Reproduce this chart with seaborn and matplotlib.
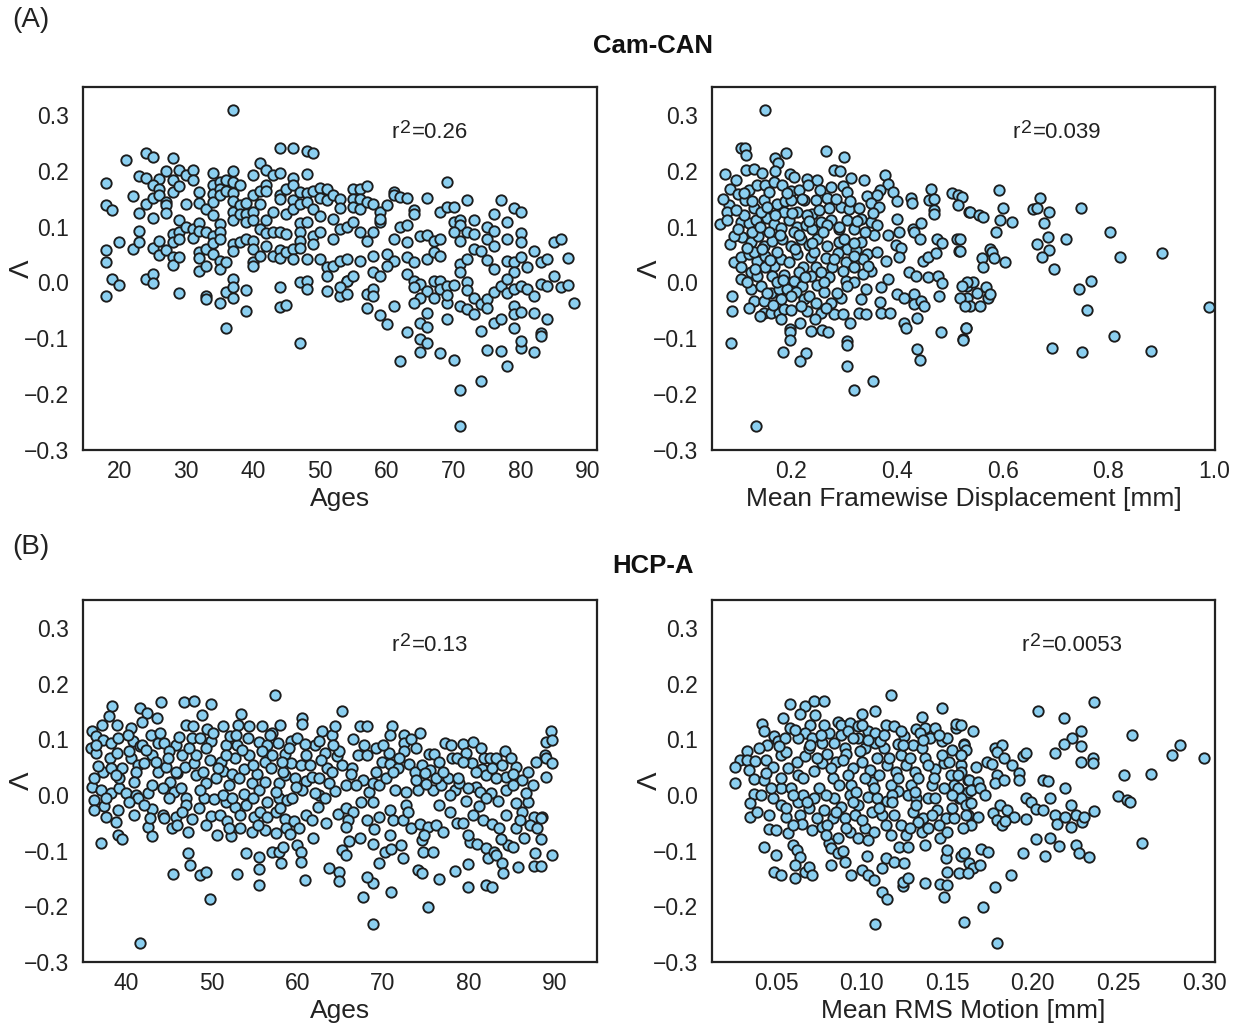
import matplotlib
matplotlib.use("Agg")
import matplotlib.pyplot as plt
import seaborn as sns
import pandas as pd

# ---------------- data ----------------
# Cam-CAN : (age, Lambda)
cam_age_pts = [
(37,0.308),(21,0.219),(24,0.231),(25,0.225),(28,0.223),(18,0.178),(23,0.190),(24,0.187),(26,0.186),(27,0.199),
(29,0.202),(30,0.193),(31,0.202),(31,0.184),(34,0.196),(37,0.199),(40,0.192),(41,0.214),(42,0.201),(43,0.192),
(44,0.196),(44,0.241),(46,0.241),(48,0.235),(49,0.231),(48,0.195),(46,0.187),(22,0.154),(18,0.138),(19,0.129),
(24,0.141),(23,0.125),(25,0.174),(26,0.168),(25,0.151),(26,0.156),(27,0.144),(27,0.138),(27,0.125),(28,0.162),
(28,0.183),(29,0.172),(25,0.116),(23,0.093),(20,0.073),(18,0.059),(18,0.036),(22,0.060),(23,0.072),(25,0.061),
(26,0.074),(26,0.050),(27,0.058),(28,0.046),(28,0.032),(28,0.087),(28,0.072),(29,0.090),(29,0.077),(29,0.046),
(29,0.111),(30,0.141),(30,0.100),(31,0.096),(31,0.079),(32,0.162),(32,0.142),(32,0.106),(32,0.093),(32,0.055),
(32,0.043),(32,0.021),(33,0.132),(33,0.091),(33,0.060),(33,0.030),(34,0.174),(34,0.159),(34,0.144),(34,0.120),
(34,0.084),(34,0.070),(34,0.051),(35,0.180),(35,0.168),(35,0.156),(35,0.105),(35,0.090),(35,0.077),(35,0.039),
(35,0.025),(36,0.183),(36,0.163),(36,0.036),(37,0.180),(37,0.160),(37,0.145),(37,0.127),(37,0.111),(37,0.069),
(37,0.057),(38,0.175),(38,0.139),(38,0.123),(38,0.072),(39,0.143),(39,0.122),(39,0.109),(39,0.077),(40,0.156),
(40,0.127),(40,0.111),(40,0.075),(40,0.060),(40,0.036),(40,0.030),(41,0.141),(41,0.163),(41,0.096),(41,0.048),
(42,0.175),(42,0.163),(42,0.111),(42,0.088),(42,0.066),(43,0.127),(43,0.090),(43,0.047),(44,0.157),(44,0.150),
(44,0.091),(44,0.059),(44,0.043),(45,0.168),(45,0.123),(45,0.087),(45,0.055),(46,0.174),(46,0.148),(46,0.132),
(46,0.060),(46,0.042),(47,0.162),(47,0.141),(47,0.107),(47,0.090),(47,0.075),(47,0.061),(48,0.160),(48,0.144),
(48,0.108),(48,0.042),(49,0.163),(49,0.132),(49,0.083),(49,0.069),(50,0.169),(50,0.151),(50,0.119),(50,0.091),
(50,0.042),(51,0.168),(51,0.147),(51,0.027),(51,0.012),(51,-0.016),(52,0.156),(52,0.114),(52,0.078),(52,0.030),
(53,0.150),(53,0.133),(53,0.096),(53,-0.024),(18,-0.024),(19,0.007),(20,-0.005),(24,0.007),(25,0.015),(25,-0.001),
(29,-0.019),(33,-0.025),(33,-0.030),(35,-0.037),(36,-0.017),(37,0.007),(37,-0.009),(37,-0.028),(36,-0.082),(39,-0.013),
(39,-0.051),(44,-0.009),(44,-0.044),(45,-0.040),(47,0.001),(48,0.003),(48,-0.012),(47,-0.108),(54,0.003),
(55,0.168),(56,0.168),(57,0.172),(55,0.150),(55,0.135),(56,0.150),(56,0.132),(57,0.144),(58,0.141),(59,0.126),
(60,0.138),(61,0.162),(61,0.156),(62,0.153),(63,0.151),(64,0.129),(64,0.123),(66,0.151),(69,0.180),(68,0.126),
(69,0.135),(70,0.135),(72,0.148),(70,0.108),(71,0.111),(71,0.102),(73,0.111),(77,0.147),(79,0.133),(80,0.127),
(76,0.123),(78,0.109),(75,0.099),(76,0.093),(80,0.088),(54,0.099),(55,0.108),(56,0.090),(57,0.075),(58,0.090),
(59,0.108),(59,0.114),(62,0.099),(63,0.102),(61,0.078),(63,0.073),(65,0.084),(66,0.085),(67,0.075),(68,0.078),
(70,0.090),(71,0.075),(72,0.090),(73,0.087),(75,0.078),(76,0.066),(78,0.077),(80,0.072),(85,0.072),(86,0.077),
(87,0.043),(53,0.039),(54,0.042),(56,0.039),(58,0.048),(60,0.051),(61,0.039),(60,0.030),(63,0.045),(64,0.036),
(66,0.042),(67,0.054),(68,0.047),(71,0.033),(71,0.018),(72,0.042),(73,0.060),(74,0.057),(75,0.041),(76,0.024),
(78,0.039),(79,0.036),(80,0.045),(81,0.027),(82,0.057),(83,0.036),(84,0.042),(79,0.018),(58,0.018),(59,0.011),
(54,0.003),(55,0.012),(53,-0.009),(54,-0.021),(57,-0.021),(58,-0.011),(63,0.015),(64,0.003),(65,-0.003),(64,-0.009),
(66,-0.015),(67,0.003),(68,0.003),(68,-0.012),(69,-0.006),(70,-0.005),(67,-0.027),(69,-0.036),(69,-0.023),(65,-0.027),
(64,-0.036),(72,0.000),(72,-0.013),(73,-0.027),(74,-0.039),(75,-0.030),(76,-0.017),(77,-0.006),(78,0.007),(78,-0.018),
(79,-0.012),(80,-0.006),(81,-0.012),(82,-0.025),(83,-0.003),(84,-0.006),(85,0.011),(86,-0.009),(87,-0.005),(88,-0.036),
(71,-0.042),(72,-0.047),(73,-0.056),(75,-0.045),(79,-0.042),(79,-0.057),(80,-0.053),(82,-0.054),(84,-0.065),(76,-0.073),
(77,-0.065),(79,-0.081),(83,-0.090),(83,-0.095),(74,-0.087),(65,-0.072),(66,-0.079),(66,-0.054),(63,-0.089),(60,-0.075),
(59,-0.059),(61,-0.043),(57,-0.045),(58,-0.025),(65,-0.102),(66,-0.109),(65,-0.125),(68,-0.126),(70,-0.139),(62,-0.141),
(75,-0.121),(77,-0.123),(78,-0.149),(80,-0.117),(80,-0.105),(82,-0.125),(71,-0.193),(74,-0.177),(71,-0.257),(69,-0.066),
]

# Cam-CAN : (mean framewise displacement [mm], Lambda)
cam_fd_pts = [
(0.150,0.308),(0.104,0.241),(0.112,0.241),(0.115,0.229),(0.169,0.223),(0.175,0.214),(0.191,0.231),(0.265,0.235),
(0.299,0.225),(0.281,0.201),(0.292,0.199),(0.075,0.195),(0.096,0.184),(0.115,0.202),(0.129,0.204),(0.144,0.196),
(0.169,0.199),(0.197,0.195),(0.205,0.189),(0.230,0.186),(0.249,0.184),(0.314,0.187),(0.338,0.183),(0.377,0.193),
(0.384,0.177),(0.085,0.168),(0.120,0.166),(0.135,0.174),(0.151,0.175),(0.167,0.180),(0.183,0.174),(0.199,0.163),
(0.215,0.165),(0.232,0.174),(0.254,0.166),(0.276,0.171),(0.297,0.172),(0.306,0.162),(0.368,0.166),(0.392,0.162),
(0.343,0.154),(0.362,0.156),(0.400,0.145),(0.427,0.151),(0.428,0.142),(0.465,0.168),(0.460,0.147),(0.470,0.150),
(0.504,0.160),(0.516,0.156),(0.524,0.153),(0.516,0.139),(0.537,0.127),(0.470,0.130),(0.470,0.123),(0.082,0.139),
(0.078,0.127),(0.099,0.159),(0.113,0.147),(0.129,0.133),(0.148,0.147),(0.158,0.162),(0.173,0.141),(0.189,0.145),
(0.199,0.147),(0.210,0.126),(0.224,0.147),(0.240,0.123),(0.246,0.147),(0.268,0.151),(0.271,0.133),(0.294,0.135),
(0.309,0.131),(0.328,0.133),(0.351,0.143),(0.366,0.135),(0.066,0.105),(0.078,0.111),(0.104,0.108),(0.120,0.106),
(0.134,0.111),(0.154,0.115),(0.167,0.105),(0.180,0.097),(0.196,0.111),(0.211,0.099),(0.227,0.102),(0.240,0.096),
(0.257,0.109),(0.275,0.111),(0.291,0.095),(0.306,0.111),(0.319,0.096),(0.351,0.108),(0.363,0.102),(0.357,0.085),
(0.384,0.085),(0.401,0.114),(0.404,0.091),(0.430,0.096),(0.433,0.090),(0.446,0.107),(0.443,0.077),(0.476,0.077),
(0.486,0.071),(0.514,0.077),(0.517,0.057),(0.085,0.068),(0.107,0.081),(0.123,0.073),(0.138,0.084),(0.148,0.066),
(0.164,0.075),(0.183,0.077),(0.199,0.066),(0.219,0.078),(0.234,0.067),(0.249,0.078),(0.268,0.066),(0.291,0.072),
(0.306,0.060),(0.322,0.058),(0.332,0.072),(0.344,0.051),(0.363,0.054),(0.379,0.039),(0.398,0.067),(0.408,0.061),
(0.404,0.045),(0.449,0.039),(0.458,0.045),(0.474,0.053),(0.091,0.036),(0.104,0.045),(0.104,0.027),(0.120,0.051),
(0.135,0.039),(0.151,0.048),(0.167,0.030),(0.180,0.042),(0.196,0.036),(0.211,0.051),(0.223,0.027),(0.237,0.045),
(0.246,0.027),(0.265,0.043),(0.278,0.027),(0.289,0.053),(0.303,0.037),(0.319,0.027),(0.335,0.042),(0.351,0.021),
(0.105,0.006),(0.123,0.018),(0.135,0.012),(0.151,0.027),(0.164,0.012),(0.186,0.013),(0.205,0.003),(0.221,-0.006),
(0.237,0.012),(0.249,-0.005),(0.271,0.010),(0.303,0.003),(0.319,0.000),(0.335,0.015),(0.370,-0.009),(0.383,0.007),
(0.423,0.018),(0.436,0.012),(0.458,0.009),(0.477,0.011),(0.485,-0.001),(0.533,-0.006),(0.544,0.000),(0.123,-0.011),
(0.130,-0.033),(0.148,-0.033),(0.162,-0.018),(0.177,-0.011),(0.192,-0.012),(0.209,-0.017),(0.224,-0.030),(0.234,-0.024),
(0.246,-0.036),(0.262,-0.017),(0.275,-0.036),(0.294,-0.027),(0.306,-0.006),(0.332,-0.030),(0.341,-0.011),(0.368,-0.035),
(0.400,-0.021),(0.414,-0.027),(0.432,-0.021),(0.433,-0.038),(0.446,-0.033),(0.452,-0.042),(0.479,-0.024),(0.533,-0.027),
(0.539,-0.042),(0.088,-0.024),(0.088,-0.051),(0.148,-0.055),(0.161,-0.054),(0.177,-0.054),(0.187,-0.048),(0.180,-0.066),
(0.198,-0.083),(0.198,-0.089),(0.216,-0.072),(0.229,-0.051),(0.238,-0.087),(0.259,-0.086),(0.270,-0.088),(0.281,-0.057),
(0.297,-0.057),(0.311,-0.073),(0.328,-0.054),(0.341,-0.057),(0.370,-0.055),(0.387,-0.054),(0.414,-0.073),(0.417,-0.081),
(0.438,-0.064),(0.484,-0.089),(0.531,-0.081),(0.525,-0.102),(0.086,-0.108),(0.197,-0.103),(0.185,-0.125),(0.227,-0.126),
(0.216,-0.141),(0.305,-0.105),(0.306,-0.112),(0.305,-0.149),(0.438,-0.120),(0.444,-0.139),(0.354,-0.177),(0.319,-0.193),
(0.134,-0.257),
(0.593,0.166),(0.601,0.133),(0.595,0.112),(0.618,0.108),(0.588,0.090),(0.538,0.127),(0.555,0.120),(0.563,0.117),
(0.670,0.151),(0.658,0.132),(0.666,0.133),(0.687,0.126),(0.678,0.106),(0.686,0.081),(0.720,0.077),(0.749,0.134),
(0.804,0.091),(0.666,0.068),(0.687,0.059),(0.674,0.046),(0.697,0.025),(0.823,0.046),(0.901,0.052),(0.576,0.060),
(0.579,0.055),(0.561,0.043),(0.563,0.028),(0.584,0.044),(0.604,0.036),(0.520,0.077),(0.520,0.057),(0.533,0.000),
(0.523,-0.006),(0.520,-0.027),(0.528,-0.042),(0.551,-0.019),(0.568,-0.008),(0.572,-0.027),(0.576,-0.021),(0.558,-0.042),
(0.531,-0.081),(0.525,-0.103),(0.745,-0.012),(0.767,0.003),(0.760,-0.049),(0.990,-0.044),(0.811,-0.096),(0.693,-0.118),
(0.750,-0.125),(0.880,-0.123),
(0.091,0.084),(0.110,0.120),(0.126,0.090),(0.142,0.126),(0.158,0.090),(0.173,0.054),(0.186,0.126),(0.205,0.090),
(0.215,0.018),(0.230,0.120),(0.243,0.054),(0.256,0.018),(0.268,0.102),(0.281,0.042),(0.300,0.078),(0.319,0.048),
(0.332,0.114),(0.116,0.000),(0.142,-0.006),(0.173,0.000),(0.199,-0.024),(0.218,-0.042),(0.256,-0.054),(0.287,-0.018),
(0.129,0.054),(0.154,-0.018),(0.180,-0.030),
(0.070,0.150),(0.095,0.130),(0.100,0.095),(0.110,0.160),(0.117,0.062),(0.125,0.145),(0.132,0.025),(0.140,0.100),
(0.145,0.060),(0.155,0.135),(0.160,0.040),(0.170,0.120),(0.178,0.085),(0.185,0.005),(0.192,0.160),(0.202,0.125),
(0.207,0.060),(0.215,0.085),(0.220,0.150),(0.226,0.010),(0.233,0.110),(0.240,0.070),(0.252,0.130),(0.260,0.090),
(0.262,0.000),(0.285,0.150),(0.290,0.100),(0.297,0.020),(0.312,0.145),(0.318,0.070),(0.325,0.110),(0.340,0.090),
(0.345,0.030),(0.355,0.125),(0.120,-0.045),(0.140,-0.060),(0.165,-0.040),(0.200,-0.050),(0.245,-0.065),(0.265,-0.045),
]

# HCP-A : (age, Lambda)
hcp_age_pts = [
(57.4,0.180),(38.4,0.159),(41.7,0.156),(44.1,0.166),(46.8,0.166),(48.0,0.168),(49.9,0.163),(42.5,0.147),(38.0,0.141),
(43.6,0.139),(48.9,0.143),(53.5,0.145),(65.2,0.150),(37.2,0.126),(39.0,0.126),(40.6,0.120),(41.9,0.131),(47.0,0.126),
(47.8,0.123),(49.5,0.118),(51.3,0.124),(53.1,0.126),(54.4,0.123),(55.9,0.123),(57.1,0.111),(58.0,0.125),(60.6,0.139),
(60.6,0.127),(62.9,0.115),(64.1,0.108),(64.4,0.124),(36.0,0.114),(36.5,0.105),(37.3,0.099),(38.3,0.093),(39.1,0.102),
(40.8,0.096),(41.6,0.087),(42.9,0.107),(43.7,0.093),(44.5,0.094),(45.8,0.090),(46.6,0.072),(47.7,0.102),(48.7,0.103),
(50.0,0.096),(51.7,0.090),(52.2,0.105),(53.0,0.090),(54.3,0.103),(55.5,0.095),(56.5,0.090),(57.8,0.093),(58.6,0.073),
(59.3,0.097),(60.0,0.102),(62.1,0.090),(62.5,0.097),(63.2,0.075),(64.6,0.069),(35.9,0.084),(36.5,0.075),(38.1,0.066),
(39.0,0.075),(39.6,0.048),(40.6,0.066),(41.4,0.054),(42.1,0.057),(43.1,0.072),(43.8,0.042),(44.7,0.051),(45.2,0.024),
(46.0,0.039),(46.9,0.051),(48.0,0.057),(48.2,0.036),(49.3,0.021),(49.8,0.063),(51.1,0.060),(51.3,0.043),(52.4,0.037),
(52.8,0.066),(53.8,0.047),(54.7,0.021),(55.3,0.037),(56.2,0.060),(56.9,0.049),(57.9,0.021),(58.6,0.036),(59.3,0.057),
(60.4,0.054),(61.0,0.025),(61.7,0.033),(62.5,0.000),(63.5,0.048),(64.4,0.007),(65.2,0.054),(36.1,0.015),(36.3,0.030),
(37.1,0.009),(38.3,0.004),(39.2,0.012),(40.0,0.003),(41.2,0.000),(42.6,0.003),(44.3,0.012),(45.6,0.006),(47.0,-0.005),
(49.1,-0.006),(50.3,-0.007),(51.7,-0.012),(53.8,0.001),(55.5,0.009),(56.5,-0.012),(57.9,-0.006),(58.8,-0.009),(60.6,0.009),
(62.1,0.003),(36.3,-0.009),(37.5,-0.019),(36.3,-0.027),(37.7,-0.039),(39.1,-0.027),(41.4,-0.006),(43.1,-0.025),(44.3,-0.036),
(44.4,-0.041),(45.8,-0.039),(47.0,-0.018),(47.7,-0.043),(48.5,-0.023),(50.0,-0.037),(51.0,-0.036),(51.8,-0.047),(52.7,-0.021),
(53.3,-0.036),(54.0,-0.018),(55.0,-0.039),(55.7,-0.030),(56.5,-0.039),(57.5,-0.030),(58.6,-0.043),(59.6,-0.047),(61.0,-0.036),
(61.7,-0.045),(62.4,-0.021),(64.8,-0.035),(42.6,-0.057),(43.1,-0.073),(45.4,-0.059),(47.2,-0.066),(50.7,-0.072),(52.3,-0.073),
(53.3,-0.059),(54.7,-0.066),(56.3,-0.063),(57.5,-0.068),(58.7,-0.060),(59.2,-0.071),(61.8,-0.077),(39.1,-0.072),(39.5,-0.079),
(37.1,-0.086),(47.3,-0.105),(47.5,-0.126),(45.5,-0.142),(48.7,-0.144),(49.4,-0.139),(49.8,-0.187),(53.0,-0.142),(54.0,-0.105),
(55.6,-0.111),(55.5,-0.133),(55.5,-0.162),(57.1,-0.103),(57.9,-0.102),(58.3,-0.093),(58.1,-0.123),(60.0,-0.090),(60.5,-0.102),
(60.5,-0.120),(60.9,-0.153),(63.7,-0.131),(64.9,-0.138),(64.9,-0.154),(65.2,-0.099),(41.6,-0.265),
(67.3,0.124),(68.1,0.123),(71.1,0.123),(70.8,0.107),(66.5,0.101),(69.2,0.084),(67.1,0.071),(68.1,0.071),(70.7,0.075),
(72.5,0.108),(72.5,0.093),(72.5,0.078),(73.3,0.101),(74.3,0.111),(69.9,0.060),(70.8,0.055),(71.8,0.048),(73.0,0.055),
(73.8,0.042),(74.6,0.054),(75.4,0.073),(76.0,0.073),(76.5,0.060),(75.5,0.045),(77.3,0.093),(78.0,0.090),(79.3,0.091),
(80.5,0.095),(79.7,0.075),(80.4,0.057),(78.1,0.066),(78.6,0.067),(79.3,0.060),(81.8,0.067),(82.5,0.067),(83.2,0.067),
(84.3,0.079),(81.6,0.047),(82.1,0.036),(84.4,0.033),(85.6,0.051),(86.3,0.027),(85.2,0.037),(89.6,0.114),(89.1,0.095),
(89.8,0.099),(88.9,0.072),(89.0,0.066),(89.8,0.057),(89.0,0.032),(66.4,0.048),(65.7,0.018),(66.3,0.037),(67.7,0.027),
(68.4,0.005),(68.8,0.021),(69.6,0.018),(70.4,0.030),(71.4,0.009),(72.7,0.006),(74.1,0.009),(74.9,0.039),(75.8,0.009),
(76.8,0.018),(77.6,0.030),(78.4,0.009),(79.7,-0.011),(80.9,0.015),(81.3,0.006),(82.6,0.003),(83.5,-0.011),(84.4,0.009),
(85.5,-0.015),(86.3,-0.030),(87.0,-0.012),(87.7,-0.039),(88.6,-0.039),(65.7,-0.024),(66.5,-0.030),(65.9,-0.045),(65.7,-0.057),
(68.1,-0.045),(69.6,-0.039),(70.8,-0.027),(71.2,-0.045),(72.3,-0.045),(73.3,-0.059),(74.3,-0.053),(75.3,-0.057),(76.2,-0.054),
(77.0,-0.066),(78.6,-0.051),(79.3,-0.051),(80.5,-0.036),(81.7,-0.045),(82.8,-0.053),(83.6,-0.059),(84.4,-0.036),(85.6,-0.059),
(87.2,-0.054),(88.5,-0.041),(66.1,-0.083),(67.3,-0.078),(68.8,-0.089),(70.2,-0.102),(71.0,-0.097),(70.8,-0.072),(72.1,-0.090),
(72.3,-0.113),(74.6,-0.081),(74.7,-0.102),(75.9,-0.102),(74.1,-0.135),(74.6,-0.141),(76.6,-0.151),(78.4,-0.137),(80.0,-0.124),
(80.2,-0.085),(81.0,-0.089),(82.1,-0.096),(82.3,-0.113),(83.0,-0.102),(83.2,-0.108),(83.9,-0.123),(84.0,-0.141),(84.6,-0.090),
(85.2,-0.093),(85.8,-0.129),(86.5,-0.077),(87.8,-0.105),(87.6,-0.127),(88.5,-0.127),(88.5,-0.079),(89.8,-0.107),(80.0,-0.165),
(82.1,-0.162),(82.8,-0.166),(69.6,-0.123),(68.8,-0.159),(68.1,-0.147),(67.7,-0.183),(71.0,-0.175),(68.8,-0.231),(75.3,-0.202),
(65.7,-0.108),
(36.5,0.090),(37.3,0.042),(38.3,0.048),(39.2,0.030),(40.4,0.078),(41.2,0.042),(41.9,0.090),(43.5,0.060),(45.0,0.078),
(45.8,0.042),(48.2,0.072),(49.0,0.042),(50.5,0.030),(51.7,0.072),(53.2,0.030),(54.4,0.072),(56.3,0.024),(57.1,0.072),
(58.3,0.042),(59.8,0.030),(61.0,0.072),(62.5,0.030),(64.1,0.042),(64.9,0.078),(37.7,-0.006),(40.4,-0.012),(42.1,-0.018),
(45.0,-0.006),(46.6,-0.030),(51.3,0.000),(52.4,-0.006),(54.8,-0.006),(59.4,-0.006),(63.3,-0.006),
(66.9,0.018),(69.2,0.042),(71.2,0.042),(73.9,0.027),(76.2,0.030),(77.8,0.000),(78.9,0.021),(80.9,0.042),(83.2,0.030),
(85.2,0.018),(86.7,0.003),(87.5,0.018),(82.1,-0.006),(76.6,-0.018),(72.7,-0.018),(68.8,-0.012),
(36.8,0.052),(38.8,0.036),(40.2,0.108),(40.9,0.024),(42.3,0.081),(43.0,0.018),(44.0,0.112),(44.9,0.066),(46.2,0.104),
(46.4,0.012),(47.4,0.084),(48.6,0.009),(49.4,0.084),(50.2,0.112),(50.8,0.048),(52.0,0.018),(52.9,0.108),(53.6,0.080),
(54.9,0.054),(55.9,0.078),(56.8,0.108),(57.5,0.006),(58.2,0.060),(59.0,0.084),(59.9,0.015),(60.9,0.092),(61.5,0.054),
(62.8,0.063),(63.7,0.022),(64.2,0.090),(38.9,-0.048),(40.9,-0.036),(42.8,-0.042),(46.0,-0.054),(49.4,-0.054),(52.0,-0.060),
(55.4,-0.054),(58.0,-0.024),(60.2,-0.060),(63.4,-0.050),
(67.8,0.090),(70.0,0.090),(71.9,0.066),(73.9,0.084),(75.0,0.020),(77.0,0.042),(78.8,0.030),(80.0,0.012),(81.5,0.084),
(82.7,0.048),(83.9,0.054),(85.0,0.066),(86.9,0.042),(87.9,0.060),(67.5,-0.012),(69.0,-0.062),(72.9,-0.030),(74.8,-0.072),
(77.8,-0.030),(79.9,-0.072),(81.2,-0.020),(83.8,-0.080),(86.0,-0.045),(88.0,-0.060),
]

# HCP-A : (mean RMS motion [mm], Lambda)
hcp_rms_pts = [
(0.117,0.180),(0.147,0.156),(0.058,0.163),(0.067,0.159),(0.072,0.168),(0.078,0.169),(0.064,0.146),(0.054,0.139),
(0.073,0.143),(0.100,0.145),(0.108,0.151),(0.135,0.140),(0.042,0.127),(0.043,0.114),(0.058,0.120),(0.070,0.125),
(0.086,0.131),(0.088,0.125),(0.093,0.130),(0.098,0.123),(0.104,0.114),(0.114,0.126),(0.119,0.123),(0.132,0.118),
(0.137,0.120),(0.155,0.121),(0.155,0.127),(0.049,0.105),(0.051,0.096),(0.055,0.102),(0.067,0.111),(0.071,0.103),
(0.077,0.093),(0.081,0.111),(0.090,0.084),(0.098,0.102),(0.108,0.111),(0.108,0.093),(0.113,0.084),(0.121,0.091),
(0.125,0.105),(0.130,0.090),(0.134,0.111),(0.140,0.102),(0.147,0.096),(0.153,0.081),(0.160,0.091),(0.033,0.078),
(0.029,0.063),(0.026,0.051),(0.026,0.021),(0.033,0.063),(0.038,0.061),(0.044,0.063),(0.034,0.045),(0.037,0.028),
(0.043,0.027),(0.048,0.051),(0.053,0.072),(0.056,0.077),(0.062,0.060),(0.067,0.069),(0.072,0.043),(0.077,0.057),
(0.080,0.073),(0.085,0.060),(0.091,0.073),(0.095,0.049),(0.100,0.060),(0.105,0.045),(0.109,0.066),(0.115,0.054),
(0.120,0.042),(0.126,0.054),(0.131,0.042),(0.137,0.067),(0.143,0.047),(0.148,0.057),(0.152,0.036),(0.158,0.054),
(0.162,0.027),(0.037,0.001),(0.035,-0.015),(0.035,-0.039),(0.041,0.000),(0.048,-0.006),(0.053,0.012),(0.059,0.013),
(0.063,-0.012),(0.066,0.000),(0.072,-0.006),(0.078,-0.027),(0.084,-0.005),(0.088,-0.021),(0.093,0.000),(0.098,-0.018),
(0.104,-0.003),(0.109,-0.006),(0.115,-0.011),(0.121,0.007),(0.127,0.000),(0.132,-0.005),(0.139,-0.005),(0.144,-0.027),
(0.149,-0.042),(0.157,-0.006),(0.162,0.006),(0.039,-0.030),(0.046,-0.036),(0.046,-0.062),(0.050,-0.063),(0.056,-0.039),
(0.057,-0.069),(0.064,-0.036),(0.065,-0.053),(0.071,-0.063),(0.077,-0.057),(0.083,-0.042),(0.086,-0.078),(0.090,-0.042),
(0.093,-0.066),(0.098,-0.078),(0.102,-0.060),(0.107,-0.066),(0.112,-0.036),(0.117,-0.072),(0.122,-0.093),(0.126,-0.072),
(0.127,-0.093),(0.130,-0.030),(0.136,-0.042),(0.135,-0.066),(0.139,-0.060),(0.146,-0.078),(0.150,-0.066),(0.137,-0.090),
(0.162,-0.036),(0.164,-0.054),(0.043,-0.093),(0.050,-0.108),(0.060,-0.090),(0.062,-0.099),(0.064,-0.111),(0.061,-0.125),
(0.049,-0.139),(0.053,-0.143),(0.061,-0.150),(0.067,-0.139),(0.069,-0.129),(0.071,-0.144),(0.082,-0.126),(0.081,-0.087),
(0.082,-0.096),(0.086,-0.105),(0.090,-0.121),(0.094,-0.143),(0.100,-0.135),(0.104,-0.144),(0.107,-0.153),(0.103,-0.109),
(0.112,-0.131),(0.114,-0.113),(0.119,-0.120),(0.125,-0.123),(0.124,-0.163),(0.124,-0.156),(0.127,-0.150),(0.137,-0.159),
(0.146,-0.160),(0.150,-0.162),(0.148,-0.183),(0.150,-0.138),(0.149,-0.113),(0.150,-0.099),(0.157,-0.141),(0.160,-0.105),
(0.158,-0.109),(0.112,-0.175),(0.115,-0.187),(0.108,-0.231),(0.160,-0.229),
(0.236,0.166),(0.203,0.150),(0.218,0.139),(0.258,0.107),(0.286,0.090),(0.281,0.071),(0.300,0.066),(0.165,0.114),
(0.158,0.126),(0.160,0.090),(0.161,0.081),(0.158,0.072),(0.228,0.114),(0.223,0.102),(0.218,0.091),(0.213,0.075),
(0.228,0.087),(0.228,0.060),(0.235,0.066),(0.235,0.057),(0.178,0.084),(0.182,0.089),(0.179,0.077),(0.183,0.067),
(0.173,0.059),(0.176,0.055),(0.167,0.051),(0.179,0.036),(0.178,0.021),(0.183,0.027),(0.188,0.053),(0.192,0.039),
(0.192,0.027),(0.194,0.069),(0.196,0.075),(0.206,0.027),(0.209,0.025),(0.219,0.012),(0.253,0.035),(0.269,0.037),
(0.250,-0.002),(0.255,-0.009),(0.257,-0.012),(0.158,0.042),(0.163,0.027),(0.168,0.024),(0.164,0.009),(0.169,0.012),
(0.172,0.000),(0.158,-0.005),(0.161,-0.018),(0.164,-0.015),(0.168,-0.039),(0.161,-0.036),(0.177,-0.033),(0.179,-0.045),
(0.181,-0.018),(0.182,-0.054),(0.185,-0.027),(0.189,-0.039),(0.184,-0.047),(0.196,-0.043),(0.196,-0.005),(0.199,-0.013),
(0.202,-0.025),(0.206,-0.027),(0.210,-0.006),(0.213,-0.036),(0.214,-0.053),(0.219,-0.039),(0.222,-0.018),(0.222,-0.057),
(0.225,-0.036),(0.229,-0.049),(0.230,-0.039),(0.236,-0.029),(0.202,-0.079),(0.210,-0.077),(0.215,-0.091),(0.225,-0.090),
(0.227,-0.105),(0.233,-0.111),(0.207,-0.109),(0.194,-0.105),(0.264,-0.087),(0.170,-0.097),(0.174,-0.102),(0.160,-0.105),
(0.163,-0.123),(0.165,-0.132),(0.169,-0.126),(0.162,-0.141),(0.187,-0.144),(0.178,-0.165),(0.171,-0.202),(0.179,-0.265),
(0.045,0.090),(0.053,0.030),(0.063,0.036),(0.069,0.084),(0.075,0.012),(0.083,0.030),(0.088,0.108),(0.094,0.018),
(0.102,0.084),(0.106,0.024),(0.111,0.096),(0.117,0.018),(0.123,0.072),(0.129,0.018),(0.135,0.084),(0.141,0.018),
(0.147,0.072),(0.154,0.018),(0.053,-0.018),(0.069,-0.024),(0.080,-0.054),(0.096,-0.036),(0.106,-0.030),(0.119,-0.036),
(0.123,-0.054),(0.133,-0.048),(0.143,-0.006),(0.154,-0.042),(0.156,0.012),(0.063,0.102),(0.078,0.126),(0.092,0.114),
(0.100,0.126),(0.123,0.114),(0.143,0.120),(0.150,0.102),(0.158,0.072),
(0.040,0.084),(0.044,0.040),(0.047,0.012),(0.052,0.088),(0.057,0.048),(0.060,0.000),(0.061,0.117),(0.066,0.030),
(0.070,0.090),(0.074,0.066),(0.076,0.108),(0.079,0.000),(0.082,0.048),(0.084,0.093),(0.087,0.018),(0.089,0.063),
(0.092,0.036),(0.095,0.102),(0.097,0.006),(0.099,0.078),(0.102,0.030),(0.104,0.099),(0.107,0.012),(0.110,0.036),
(0.113,0.108),(0.116,0.066),(0.118,0.000),(0.121,0.030),(0.124,0.090),(0.128,0.066),(0.131,0.006),(0.133,0.030),
(0.136,0.099),(0.139,0.054),(0.142,0.030),(0.145,0.108),(0.148,0.012),(0.151,0.060),(0.153,0.000),(0.156,0.036),
(0.056,-0.024),(0.060,-0.054),(0.068,-0.012),(0.074,-0.042),(0.079,-0.072),(0.085,-0.030),(0.091,-0.060),(0.095,-0.012),
(0.100,-0.045),(0.104,-0.081),(0.110,-0.024),(0.114,-0.054),(0.118,-0.012),(0.128,-0.060),(0.132,-0.018),(0.141,-0.036),
(0.145,-0.054),(0.153,-0.024),(0.159,-0.060),(0.089,-0.100),
]

r2_values = ["0.26", "0.039", "0.13", "0.0053"]
x_labels = ["Ages", "Mean Framewise Displacement [mm]", "Ages", "Mean RMS Motion [mm]"]
y_ticks = [-0.3, -0.2, -0.1, 0.0, 0.1, 0.2, 0.3]
y_tick_labels = ["\u22120.3", "\u22120.2", "\u22120.1", "0.0", "0.1", "0.2", "0.3"]
x_ticks = [
    [20, 30, 40, 50, 60, 70, 80, 90],
    [0.2, 0.4, 0.6, 0.8, 1.0],
    [40, 50, 60, 70, 80, 90],
    [0.05, 0.10, 0.15, 0.20, 0.25, 0.30],
]
x_tick_labels = [
    ["20", "30", "40", "50", "60", "70", "80", "90"],
    ["0.2", "0.4", "0.6", "0.8", "1.0"],
    ["40", "50", "60", "70", "80", "90"],
    ["0.05", "0.10", "0.15", "0.20", "0.25", "0.30"],
]
panel_titles = ["Cam-CAN", "HCP-A"]
panel_letters = ["(A)", "(B)"]

# ---------------- styling ----------------
sns.set_theme(style="white")
plt.rcParams["font.family"] = ["Liberation Sans", "DejaVu Sans"]

FACE = "#8BCFF0"
EDGE = "#1c1c1c"
INK = "#222222"
W, H = 1244, 1026
fig = plt.figure(figsize=(W / 100, H / 100), dpi=100)


def box(l, r, t, b):
    return [l / W, 1 - b / H, (r - l) / W, (b - t) / H]


axes_boxes = [box(83, 597, 87, 450), box(712, 1215, 87, 450),
              box(83, 597, 600, 962), box(712, 1215, 600, 962)]
xlims = [(14.6, 91.4), (0.05, 1.002), (35.0, 95.0), (0.0126, 0.3064)]
datasets = [cam_age_pts, cam_fd_pts, hcp_age_pts, hcp_rms_pts]
ylabel_x_px = [22, 650, 22, 650]
r2_x = [0.601, 0.598, 0.601, 0.616]

for i in range(4):
    ax = fig.add_axes(axes_boxes[i])
    df = pd.DataFrame(datasets[i], columns=["x", "lam"])
    sns.scatterplot(data=df, x="x", y="lam", ax=ax, s=56, color=FACE,
                    edgecolor=EDGE, linewidth=1.35, legend=False, zorder=3)
    ax.set_xlim(*xlims[i])
    ax.set_ylim(-0.3, 0.35)
    ax.set_yticks(y_ticks)
    ax.set_yticklabels(y_tick_labels)
    ax.set_xticks(x_ticks[i])
    ax.set_xticklabels(x_tick_labels[i])
    for sp in ax.spines.values():
        sp.set_visible(True)
        sp.set_linewidth(1.6)
        sp.set_color(INK)
    ax.tick_params(axis="both", direction="in", length=5, width=1.2,
                   colors=INK, labelsize=16.5, labelcolor=INK)
    ax.tick_params(axis="y", pad=10)
    ax.tick_params(axis="x", pad=7)
    ax.set_xlabel(x_labels[i], fontsize=19, color=INK, labelpad=3)
    ax.set_ylabel("\u039b", fontsize=20, color=INK)
    l, b, w, h = axes_boxes[i]
    ax.yaxis.set_label_coords((ylabel_x_px[i] / W - l) / w, 0.5)
    ax.yaxis.label.set_va("center")
    # r^2 annotation built from three pieces (large superscript as in the reference)
    t_r = ax.text(r2_x[i], 0.859, "r", transform=ax.transAxes, fontsize=16,
                  va="baseline", ha="left", color=INK)
    t_2 = ax.annotate("2", xy=(1, 0), xycoords=t_r, xytext=(0.6, 4.5),
                      textcoords="offset points", fontsize=14, va="bottom",
                      ha="left", color=INK)
    ax.annotate("=" + r2_values[i], xy=(1, 0), xycoords=t_2, xytext=(0.4, -4.5),
                textcoords="offset points", fontsize=16, va="bottom",
                ha="left", color=INK)

fig.text(12 / W, 1 - 20 / H, panel_letters[0], fontsize=20, va="center", ha="left", color=INK)
fig.text(12 / W, 1 - 547 / H, panel_letters[1], fontsize=20, va="center", ha="left", color=INK)
fig.text(653 / W, 1 - 46 / H, panel_titles[0], fontsize=18.5, fontweight="bold",
         va="center", ha="center", color="#111111")
fig.text(653 / W, 1 - 566 / H, panel_titles[1], fontsize=18.5, fontweight="bold",
         va="center", ha="center", color="#111111")

fig.savefig("out.png", dpi=100)
